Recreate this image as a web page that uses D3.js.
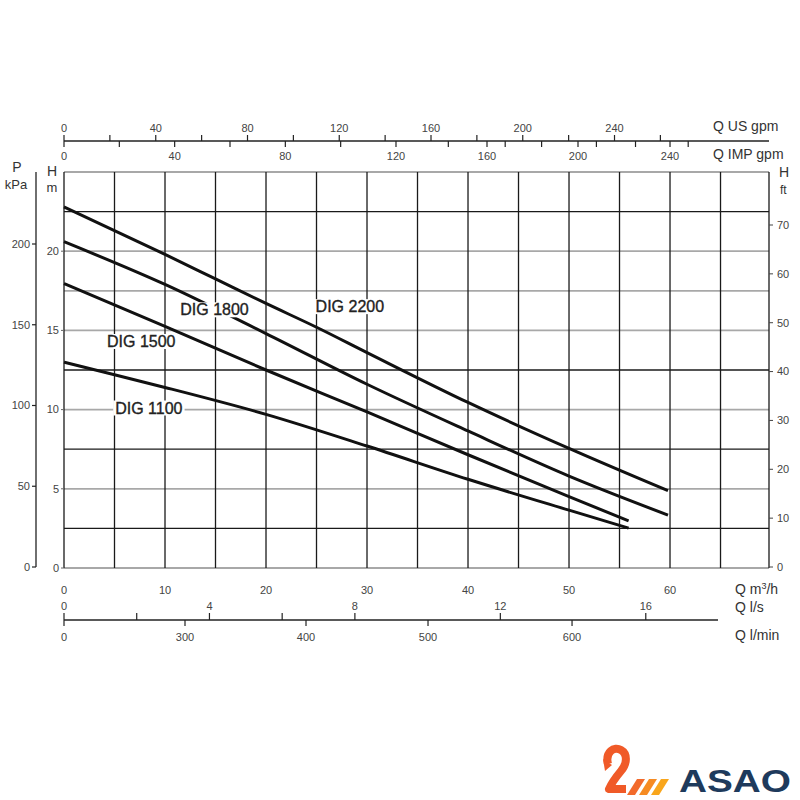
<!DOCTYPE html>
<html>
<head>
<meta charset="utf-8">
<script src="https://cdn.jsdelivr.net/npm/d3@7"></script>
<style>
  html, body { margin: 0; padding: 0; background: #fff; }
  svg { display: block; font-family: "Liberation Sans", Arial, sans-serif; }
</style>
</head>
<body>
<svg id="chart" width="800" height="800"></svg>
<script>
// ---------- data ----------
const flow2200 = [0, 10, 15, 20, 25, 30, 40, 50, 59.8];
const head2200 = [22.8, 19.8, 18.25, 16.7, 15.2, 13.6, 10.45, 7.55, 4.88];
const flow1800 = [0, 10, 20, 30, 40, 50, 59.8];
const head1800 = [20.6, 17.9, 14.8, 11.6, 8.65, 5.8, 3.34];
const flow1500 = [0, 10, 20, 30, 40, 50, 55.9];
const head1500 = [17.96, 15.25, 12.5, 9.85, 7.15, 4.5, 2.98];
const flow1100 = [0, 5, 10, 20, 30, 40, 50, 55.9];
const head1100 = [13.0, 12.2, 11.4, 9.7, 7.7, 5.6, 3.65, 2.52];

const seriesNames = ["DIG 2200", "DIG 1800", "DIG 1500", "DIG 1100"];
// label anchor (flow m3/h, head m) of each curve name
const labelFlow = [28.3, 14.9, 7.65, 8.4];
const labelHead = [16.5, 16.3, 14.3, 10.1];

// axis ticks
const flowTicks = [0, 10, 20, 30, 40, 50, 60];            // m3/h
const flowGrid = d3.range(0, 70, 5);                        // vertical grid every 5 m3/h
const headTicks = [0, 5, 10, 15, 20];                        // m
const headGrayLines = [0, 5, 10, 15, 17.5, 20, 25];
const headBlackLines = [2.5, 7.5, 12.5, 22.5];
const kpaTicks = [0, 50, 100, 150, 200];
const ftTicks = [0, 10, 20, 30, 40, 50, 60, 70];
const usLabels = [0, 40, 80, 120, 160, 200, 240];
const usMinor = d3.range(0, 280, 20);
const impLabels = [0, 40, 80, 120, 160, 200, 240];
const impMinor = [0, 20, 40, 60, 80, 100, 120, 143, 160, 168, 184, 200, 208, 225, 240, 248];
const lsLabels = [0, 4, 8, 12, 16];
const lsMinor = [0, 2, 4, 6, 8, 12, 16];
const lminLabels = [0, 300, 400, 500, 600];

// ---------- scales ----------
const svg = d3.select("#chart");
const x = d3.scaleLinear().domain([0, 69.8]).range([64, 769]);
const y = d3.scaleLinear().domain([0, 25]).range([568, 172]);
const yKpa = d3.scaleLinear().domain([0, 200]).range([567, 244]);
const yFt = d3.scaleLinear().domain([0, 70]).range([567, 225]);
const xUS = v => x(v * 0.2271);
const impToQ = d3.scaleLinear().domain([0, 120, 160, 200, 240, 260]).range([0, 32.87, 41.88, 50.89, 60.0, 64.5]);
const xIMP = v => x(impToQ(v));
const xLs = v => x(v * 3.6);
const lminToQ = d3.scaleLinear().domain([0, 300, 400, 500, 600]).range([0, 11.98, 23.96, 36.04, 50.3]);
const xLmin = v => x(lminToQ(v));

const tickColor = "#444";
const gridBlack = "#1a1a1a";

// ---------- grid ----------
const gridG = svg.append("g");
gridG.selectAll("line.hg").data(headGrayLines).join("line")
  .attr("x1", x(0)).attr("x2", x(69.8))
  .attr("y1", d => y(d)).attr("y2", d => y(d))
  .attr("stroke", "#a8a8a8").attr("stroke-width", 1.8);
gridG.selectAll("line.hb").data(headBlackLines).join("line")
  .attr("x1", x(0)).attr("x2", x(69.8))
  .attr("y1", d => y(d)).attr("y2", d => y(d))
  .attr("stroke", gridBlack).attr("stroke-width", 1.3);
gridG.selectAll("line.v").data(flowGrid.concat([69.8])).join("line")
  .attr("x1", d => x(d)).attr("x2", d => x(d))
  .attr("y1", y(25)).attr("y2", y(0))
  .attr("stroke", gridBlack).attr("stroke-width", 1.3);

// ---------- curves ----------
const curves = [
  [flow2200, head2200], [flow1800, head1800], [flow1500, head1500], [flow1100, head1100]
];
const lineGen = d3.line().x(d => x(d[0])).y(d => y(d[1])).curve(d3.curveMonotoneX);
svg.append("g").selectAll("path").data(curves).join("path")
  .attr("d", c => lineGen(c[0].map((q, i) => [q, c[1][i]])))
  .attr("fill", "none").attr("stroke", "#111").attr("stroke-width", 3)
  .attr("stroke-linecap", "butt");

// ---------- curve labels with white knock-out ----------
const lblG = svg.append("g");
seriesNames.forEach((name, i) => {
  const g = lblG.append("g");
  const t = g.append("text")
    .attr("x", x(labelFlow[i])).attr("y", y(labelHead[i]))
    .attr("text-anchor", "middle").attr("dominant-baseline", "central")
    .attr("font-size", 16).attr("fill", "#222")
    .attr("stroke", "#222").attr("stroke-width", 0.35).text(name);
  const b = t.node().getBBox();
  g.insert("rect", "text")
    .attr("x", b.x - 2).attr("y", b.y + 1).attr("width", b.width + 4).attr("height", b.height - 2)
    .attr("fill", "#fff");
});

// ---------- left axes ----------
const leftAx = svg.append("g").attr("font-size", 11).attr("fill", tickColor);
// H m
leftAx.selectAll("line.ht").data(headTicks).join("line")
  .attr("x1", x(0) - 3).attr("x2", x(0)).attr("y1", d => y(d)).attr("y2", d => y(d))
  .attr("stroke", "#666").attr("stroke-width", 1);
leftAx.selectAll("text.hl").data(headTicks).join("text")
  .attr("x", 59).attr("y", d => y(d)).attr("dy", "0.35em")
  .attr("text-anchor", "end").text(d => d);
leftAx.append("text").attr("x", 52).attr("y", 176).attr("text-anchor", "middle").attr("font-size", 14).attr("fill", "#333").text("H");
leftAx.append("text").attr("x", 52).attr("y", 192).attr("text-anchor", "middle").attr("font-size", 13).attr("fill", "#333").text("m");
// P kPa
leftAx.append("line").attr("x1", 36).attr("x2", 36).attr("y1", y(25)).attr("y2", yKpa(0))
  .attr("stroke", "#222").attr("stroke-width", 1.3);
leftAx.selectAll("line.pt").data(kpaTicks).join("line")
  .attr("x1", 32).attr("x2", 36).attr("y1", d => yKpa(d)).attr("y2", d => yKpa(d))
  .attr("stroke", "#222").attr("stroke-width", 1.2);
leftAx.selectAll("text.pl").data(kpaTicks).join("text")
  .attr("x", 30).attr("y", d => yKpa(d)).attr("dy", "0.35em")
  .attr("text-anchor", "end").text(d => d);
leftAx.append("text").attr("x", 17).attr("y", 172).attr("text-anchor", "middle").attr("font-size", 14).attr("fill", "#333").text("P");
leftAx.append("text").attr("x", 16).attr("y", 189).attr("text-anchor", "middle").attr("font-size", 13).attr("fill", "#333").text("kPa");

// ---------- right axis (ft) ----------
const rightAx = svg.append("g").attr("font-size", 11).attr("fill", tickColor);
rightAx.selectAll("line").data(ftTicks).join("line")
  .attr("x1", x(69.8)).attr("x2", x(69.8) + 4).attr("y1", d => yFt(d)).attr("y2", d => yFt(d))
  .attr("stroke", "#444").attr("stroke-width", 1);
rightAx.selectAll("text.fl").data(ftTicks).join("text")
  .attr("x", x(69.8) + 8).attr("y", d => yFt(d)).attr("dy", "0.35em").text(d => d);
rightAx.append("text").attr("x", 779).attr("y", 177).attr("font-size", 14).attr("fill", "#333").text("H");
rightAx.append("text").attr("x", 780).attr("y", 194).attr("font-size", 12).attr("fill", "#333").text("ft");

// ---------- top axes (US gpm / IMP gpm) ----------
const topAx = svg.append("g").attr("font-size", 11).attr("fill", tickColor);
const topY = 141;
topAx.append("line").attr("x1", x(0)).attr("x2", x(69.8)).attr("y1", topY).attr("y2", topY)
  .attr("stroke", "#222").attr("stroke-width", 1.3);
topAx.selectAll("line.us").data(usMinor).join("line")
  .attr("x1", d => xUS(d)).attr("x2", d => xUS(d)).attr("y1", topY - 6).attr("y2", topY)
  .attr("stroke", "#222").attr("stroke-width", 1.2);
topAx.selectAll("line.imp").data(impMinor).join("line")
  .attr("x1", d => xIMP(d)).attr("x2", d => xIMP(d)).attr("y1", topY).attr("y2", topY + 6)
  .attr("stroke", "#222").attr("stroke-width", 1.2);
topAx.selectAll("text.usl").data(usLabels).join("text")
  .attr("x", d => xUS(d)).attr("y", 132).attr("text-anchor", "middle").text(d => d);
topAx.selectAll("text.impl").data(impLabels).join("text")
  .attr("x", d => xIMP(d)).attr("y", 160).attr("text-anchor", "middle").text(d => d);
topAx.append("text").attr("x", 713).attr("y", 131).attr("font-size", 14).attr("fill", "#333").text("Q US gpm");
topAx.append("text").attr("x", 713).attr("y", 159).attr("font-size", 14).attr("fill", "#333").text("Q IMP gpm");

// ---------- bottom axes ----------
const botAx = svg.append("g").attr("font-size", 11).attr("fill", tickColor);
botAx.selectAll("text.m3").data(flowTicks).join("text")
  .attr("x", d => x(d)).attr("y", 594).attr("text-anchor", "middle").text(d => d);
const botY = 620;
botAx.append("line").attr("x1", x(0)).attr("x2", x(64.75)).attr("y1", botY).attr("y2", botY)
  .attr("stroke", "#222").attr("stroke-width", 1.3);
botAx.selectAll("line.ls").data(lsMinor).join("line")
  .attr("x1", d => xLs(d)).attr("x2", d => xLs(d)).attr("y1", botY - 7).attr("y2", botY)
  .attr("stroke", "#222").attr("stroke-width", 1.2);
botAx.selectAll("line.lm").data(lminLabels).join("line")
  .attr("x1", d => xLmin(d)).attr("x2", d => xLmin(d)).attr("y1", botY).attr("y2", botY + 6)
  .attr("stroke", "#222").attr("stroke-width", 1.2);
botAx.selectAll("text.lsl").data(lsLabels).join("text")
  .attr("x", d => xLs(d)).attr("y", 610).attr("text-anchor", "middle").text(d => d);
botAx.selectAll("text.lml").data(lminLabels).join("text")
  .attr("x", d => xLmin(d)).attr("y", 641).attr("text-anchor", "middle").text(d => d);
const qm = botAx.append("text").attr("x", 735).attr("y", 594).attr("font-size", 14).attr("fill", "#333");
qm.append("tspan").text("Q m");
qm.append("tspan").attr("font-size", 9).attr("dy", -5).text("3");
qm.append("tspan").attr("dy", 5).text("/h");
botAx.append("text").attr("x", 735).attr("y", 612).attr("font-size", 14).attr("fill", "#333").text("Q l/s");
botAx.append("text").attr("x", 735).attr("y", 640).attr("font-size", 14).attr("fill", "#333").text("Q l/min");

// ---------- logo ----------
const logo = svg.append("g");
logo.append("path")
  .attr("d", "M608,764 C605,752 614,746 621,750 C628,754 627,764 621,771 C616,777 612,782 609,789 L626,789")
  .attr("fill", "none").attr("stroke", "#f05a28").attr("stroke-width", 8).attr("stroke-linejoin", "round");
logo.append("path").attr("d", "M603,759 L612,765 L605,771 Z").attr("fill", "#f05a28");
const stripeColors = ["#f26a2b", "#f68b22", "#f9a61c"];
stripeColors.forEach((c, i) => {
  const ox = 627 + i * 12;
  logo.append("path")
    .attr("d", `M${ox + 10},779 L${ox + 18},779 L${ox + 8},795 L${ox},795 Z`)
    .attr("fill", c);
});
logo.append("text").attr("x", 679).attr("y", 792)
  .attr("font-size", 31).attr("font-weight", "bold").attr("fill", "#1e3a5c")
  .attr("textLength", 112).attr("lengthAdjust", "spacingAndGlyphs")
  .text("ASAO");
</script>
</body>
</html>
